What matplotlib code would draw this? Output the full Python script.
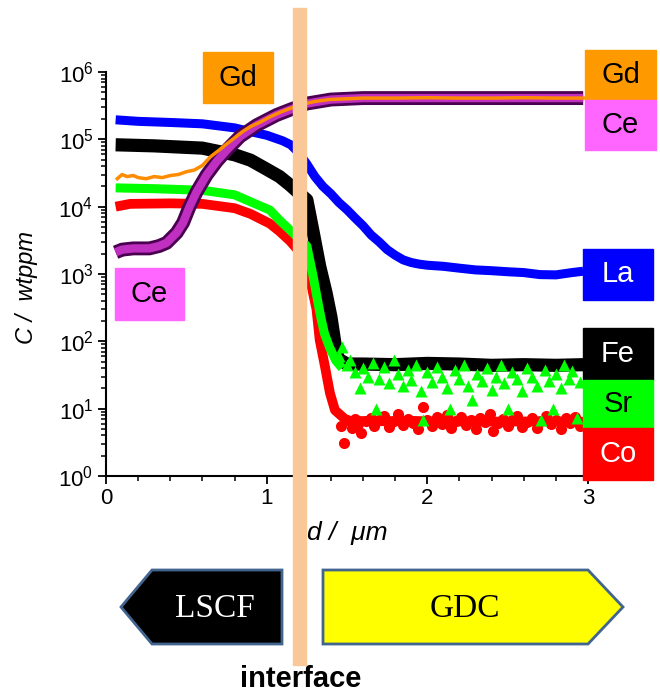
import matplotlib
matplotlib.use("Agg")
import matplotlib.pyplot as plt
from matplotlib.patches import Rectangle, Polygon
from matplotlib.ticker import LogLocator, MultipleLocator, NullFormatter

plt.rcParams['font.family'] = ['Liberation Sans', 'DejaVu Sans']

# ---------------- data (depth in µm, concentration in wtppm) ----------------
la_x = [0.06, 0.2, 0.4, 0.6, 0.8, 0.9, 1.0, 1.1, 1.15, 1.2, 1.25, 1.3, 1.35, 1.4, 1.45,
        1.5, 1.55, 1.6, 1.65, 1.7, 1.75, 1.8, 1.85, 1.9, 1.95, 2.0, 2.1, 2.2, 2.3, 2.4,
        2.5, 2.6, 2.7, 2.8, 2.9, 2.97]
la_y = [1.95e5, 1.85e5, 1.78e5, 1.7e5, 1.48e5, 1.3e5, 1.15e5, 9.5e4, 8.3e4, 6.3e4, 4.3e4,
        2.8e4, 2.0e4, 1.55e4, 1.15e4, 9.0e3, 6.8e3, 5.2e3, 3.8e3, 3.0e3, 2.3e3, 1.9e3, 1.62e3,
        1.48e3, 1.4e3, 1.35e3, 1.3e3, 1.22e3, 1.15e3, 1.12e3, 1.08e3, 1.05e3, 0.98e3,
        0.97e3, 1.05e3, 1.1e3]

fe_x = [0.06, 0.3, 0.6, 0.8, 0.9, 1.0, 1.08, 1.145, 1.2, 1.25, 1.29, 1.33, 1.37, 1.4,
        1.425, 1.445, 1.5, 1.6, 1.8, 2.0, 2.2, 2.4, 2.6, 2.8, 2.97]
fe_y = [8.3e4, 8.0e4, 7.4e4, 5.9e4, 4.9e4, 3.6e4, 2.8e4, 2.1e4, 1.6e4, 1.26e4, 4.1e3,
        1.3e3, 5.2e2, 2.3e2, 9.3e1, 5.5e1, 4.6e1, 46, 45, 47, 46, 44, 45, 44, 45]

sr_x = [0.06, 0.3, 0.6, 0.8, 0.95, 1.02, 1.08, 1.145, 1.25, 1.29, 1.32, 1.34, 1.36,
        1.39, 1.43, 1.47]
sr_y = [1.9e4, 1.85e4, 1.75e4, 1.5e4, 1.05e4, 8.9e3, 6.3e3, 4.5e3, 2.6e3, 9.0e2,
        3.7e2, 2.1e2, 1.3e2, 8.3e1, 5.2e1, 4.0e1]
sr_scatter_x = [1.45, 1.47, 1.5, 1.52, 1.55, 1.58, 1.6, 1.63, 1.66, 1.68, 1.7, 1.73,
                1.76, 1.79, 1.82, 1.85, 1.88, 1.9, 1.93, 1.96, 1.97, 2.0, 2.03, 2.06,
                2.09, 2.12, 2.14, 2.17, 2.2, 2.23, 2.25, 2.28, 2.31, 2.34, 2.37, 2.4,
                2.43, 2.46, 2.48, 2.5, 2.53, 2.56, 2.59, 2.62, 2.65, 2.68, 2.71, 2.73,
                2.76, 2.78, 2.8, 2.83, 2.85, 2.88, 2.9, 2.93, 2.95]
sr_scatter_y = [60, 83, 45, 53, 35, 20, 40, 30, 48, 10, 28, 42, 24, 53, 33, 22, 38, 27,
                45, 18, 6.8, 35, 25, 42, 30, 20, 10, 38, 28, 45, 22, 13.5, 33, 26, 40,
                19, 30, 45, 24, 10, 35, 28, 18, 40, 30, 22, 6.8, 38, 26, 10, 33, 20,
                45, 28, 36, 7.3, 25]

co_x = [0.06, 0.15, 0.4, 0.6, 0.8, 0.9, 0.96, 1.02, 1.08, 1.145, 1.25, 1.28, 1.31, 1.33,
        1.363, 1.394, 1.425, 1.5, 1.7, 1.9, 2.1, 2.3, 2.5, 2.7, 2.97]
co_y = [1.0e4, 1.1e4, 1.12e4, 1.1e4, 9.5e3, 7.8e3, 6.6e3, 5.6e3, 4.3e3, 3.1e3, 1.6e3,
        6.5e2, 3.0e2, 1.05e2, 4.2e1, 1.7e1, 9.5, 6.6, 6.5, 6.6, 6.4, 6.5, 6.4, 6.5, 6.4]
co_scatter_x = [1.46, 1.48, 1.5, 1.53, 1.55, 1.57, 1.59, 1.62, 1.65, 1.67, 1.7, 1.73,
                1.76, 1.79, 1.82, 1.85, 1.88, 1.91, 1.94, 1.97, 2.0, 2.03, 2.06, 2.09,
                2.12, 2.15, 2.18, 2.21, 2.24, 2.27, 2.3, 2.33, 2.36, 2.39, 2.41, 2.44,
                2.47, 2.5, 2.53, 2.56, 2.59, 2.62, 2.65, 2.68, 2.71, 2.74, 2.77, 2.8,
                2.83, 2.86, 2.89, 2.92, 2.95]
co_scatter_y = [5.5, 3.1, 6.8, 5.2, 7.0, 6.0, 4.4, 6.5, 7.2, 5.6, 6.8, 7.8, 5.4, 6.6,
                8.2, 5.8, 7.0, 6.2, 5.0, 10.7, 6.8, 5.6, 7.4, 6.0, 8.0, 5.2, 6.6, 7.6,
                5.8, 6.9, 5.0, 7.2, 6.4, 8.4, 4.6, 6.2, 7.0, 5.6, 6.8, 7.8, 5.4, 6.3,
                7.3, 5.2, 6.6, 7.8, 5.9, 6.8, 5.0, 7.2, 6.1, 7.6, 5.6]

gd_x = [0.07, 0.1, 0.13, 0.17, 0.2, 0.25, 0.3, 0.35, 0.4, 0.45, 0.5, 0.55, 0.6, 0.65,
        0.7, 0.75, 0.8, 0.85, 0.9, 0.96, 1.02, 1.08, 1.15, 1.24, 1.3, 1.39, 1.5, 1.6,
        1.8, 2.0, 2.2, 2.4, 2.6, 2.8, 2.97]
gd_y = [2.6e4, 3.0e4, 2.8e4, 2.9e4, 2.7e4, 2.6e4, 2.8e4, 2.7e4, 2.9e4, 3.0e4, 3.3e4,
        3.5e4, 4.1e4, 5.5e4, 6.8e4, 8.5e4, 1.05e5, 1.3e5, 1.55e5, 1.8e5, 2.15e5, 2.5e5,
        2.9e5, 3.4e5, 3.65e5, 3.9e5, 4.0e5, 4.1e5, 4.1e5, 4.15e5, 4.1e5, 4.1e5, 4.15e5,
        4.1e5, 4.1e5]

ce_x = [0.06, 0.1, 0.17, 0.27, 0.33, 0.377, 0.44, 0.48, 0.52, 0.564, 0.626, 0.689,
        0.751, 0.834, 0.938, 1.062, 1.145, 1.25, 1.4, 1.6, 2.0, 2.5, 2.97]
ce_y = [2.1e3, 2.3e3, 2.4e3, 2.4e3, 2.6e3, 2.9e3, 4.1e3, 5.8e3, 1.0e4, 1.66e4, 2.95e4,
        4.7e4, 6.9e4, 1.1e5, 1.62e5, 2.3e5, 2.75e5, 3.4e5, 3.9e5, 4.1e5, 4.1e5, 4.1e5,
        4.1e5]

# ---------------- figure ----------------
W, H = 660, 694
fig = plt.figure(figsize=(W / 100, H / 100), dpi=100)


def fx(px):
    return px / W


def fy(py):
    return 1 - py / H


ax = fig.add_axes([fx(106), fy(476), fx(588) - fx(106), fy(72) - fy(476)])

ax.plot(la_x, la_y, color='#0000FF', lw=6.5, solid_capstyle='butt', zorder=2)
ax.plot(co_x, co_y, color='#FF0000', lw=7, solid_capstyle='butt', zorder=3)
ax.plot(co_scatter_x, co_scatter_y, 'o', color='#FF0000', ms=8, mec='none', zorder=3)
ax.plot(fe_x, fe_y, color='black', lw=9.5, solid_capstyle='butt', zorder=4)
ax.plot(sr_x, sr_y, color='#00FF00', lw=6.5, solid_capstyle='butt', zorder=5)
ax.plot(sr_scatter_x, sr_scatter_y, '^', color='#00FF00', ms=9, mec='none', zorder=5)
ax.plot(ce_x, ce_y, color='#4A0050', lw=10, solid_capstyle='butt', zorder=6)
ax.plot(ce_x, ce_y, color='#C030C0', lw=6, solid_capstyle='butt', zorder=6)
ax.plot(gd_x, gd_y, color='#FF8C00', lw=2.5, zorder=7)

ax.set_yscale('log')
ax.set_xlim(0, 3)
ax.set_ylim(1, 1e6)
ax.yaxis.set_major_locator(LogLocator(base=10, numticks=10))
ax.yaxis.set_minor_locator(LogLocator(base=10, subs=range(2, 10), numticks=10))
ax.yaxis.set_minor_formatter(NullFormatter())
ax.xaxis.set_major_locator(MultipleLocator(1))
ax.xaxis.set_minor_locator(MultipleLocator(0.2))
ax.spines['top'].set_visible(False)
ax.spines['right'].set_visible(False)
for s in ('left', 'bottom'):
    ax.spines[s].set_linewidth(1.5)
ax.tick_params(which='major', direction='out', length=6, width=1.3, labelsize=16, pad=3)
ax.tick_params(which='minor', direction='out', length=3.5, width=1.1)

# axis labels
fig.text(fx(27), fy(287), 'C /  wtppm', rotation=90, style='italic', fontsize=17,
         ha='center', va='center')
fig.text(fx(347), fy(533), 'd /  μm', style='italic', fontsize=19,
         ha='center', va='center')

# interface band
fig.add_artist(Rectangle((fx(293), fy(665)), fx(306) - fx(293), fy(8) - fy(665),
                         transform=fig.transFigure, color='#FAC898', zorder=10))


def box(x0, y0, x1, y1, color, text, tcolor):
    fig.add_artist(Rectangle((fx(x0), fy(y1)), fx(x1) - fx(x0), fy(y0) - fy(y1),
                             transform=fig.transFigure, color=color, zorder=11))
    fig.text(fx((x0 + x1) / 2), fy((y0 + y1) / 2), text, color=tcolor, fontsize=21,
             ha='center', va='center', zorder=12)


box(203, 52, 273, 103, '#FF9900', 'Gd', 'black')
box(115, 268, 184, 320, '#FF66FF', 'Ce', 'black')
box(585, 50, 656, 100, '#FF9900', 'Gd', 'black')
box(585, 100, 656, 150, '#FF66FF', 'Ce', 'black')
box(583, 249, 653, 300, '#0000FF', 'La', 'white')
box(583, 328, 653, 380, '#000000', 'Fe', 'white')
box(583, 380, 653, 428, '#00FF00', 'Sr', 'black')
box(583, 428, 653, 480, '#FF0000', 'Co', 'white')

# bottom arrows
lscf = [(121, 607), (152, 570), (282, 570), (282, 644), (152, 644)]
gdc = [(323, 570), (588, 570), (623, 607), (588, 644), (323, 644)]
fig.add_artist(Polygon([(fx(a), fy(b)) for a, b in lscf], closed=True,
                       transform=fig.transFigure, facecolor='black',
                       edgecolor='#41658F', lw=2, zorder=9))
fig.add_artist(Polygon([(fx(a), fy(b)) for a, b in gdc], closed=True,
                       transform=fig.transFigure, facecolor='#FFFF00',
                       edgecolor='#41658F', lw=2, zorder=9))
fig.text(fx(215), fy(609), 'LSCF', family='Liberation Serif', color='white',
         fontsize=24, ha='center', va='center', zorder=12)
fig.text(fx(465), fy(609), 'GDC', family='Liberation Serif', color='black',
         fontsize=24, ha='center', va='center', zorder=12)
fig.text(fx(301), fy(679), 'interface', fontsize=21, fontweight='bold',
         ha='center', va='center', zorder=12)

fig.savefig('out.png', dpi=100)
